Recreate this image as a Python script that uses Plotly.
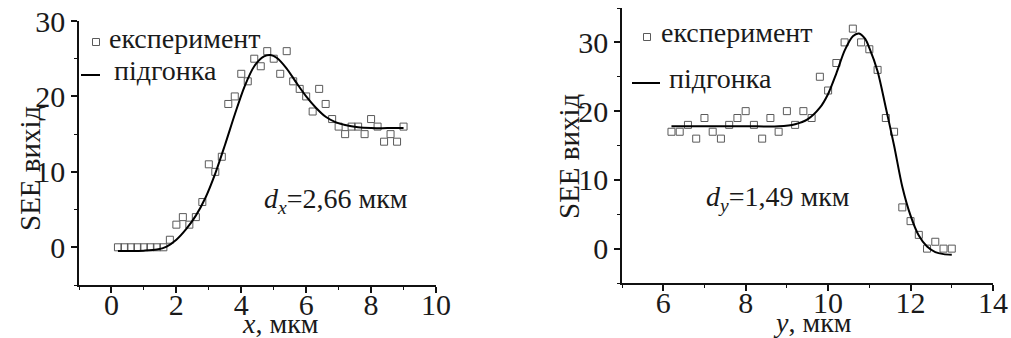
import plotly.graph_objects as go

# ---------------- data: left panel (x scan) ----------------
x_exp_l = [0.2, 0.4, 0.6, 0.8, 1.0, 1.2, 1.4, 1.6, 1.8, 2.0, 2.2, 2.4, 2.6, 2.8, 3.0,
           3.2, 3.4, 3.6, 3.8, 4.0, 4.2, 4.4, 4.6, 4.8, 5.0, 5.2, 5.4, 5.6, 5.8, 6.0,
           6.2, 6.4, 6.6, 6.8, 7.0, 7.2, 7.4, 7.6, 7.8, 8.0, 8.2, 8.4, 8.6, 8.8, 9.0]
y_exp_l = [0, 0, 0, 0, 0, 0, 0, 0, 1, 3, 4, 3, 4, 6, 11,
           10, 12, 19, 20, 23, 22, 25, 24, 26, 25, 23, 26, 22, 21, 20,
           18, 21, 19, 17, 16, 15, 16, 16, 15, 17, 16, 14, 15, 14, 16]
x_fit_l = [0.2, 0.6, 1.0, 1.4, 1.7, 2.0, 2.3, 2.6, 2.9, 3.2, 3.5, 3.8, 4.1, 4.4,
           4.7, 4.9, 5.1, 5.4, 5.7, 6.0, 6.3, 6.6, 6.9, 7.2, 7.6, 8.0, 8.5, 9.0]
y_fit_l = [-0.5, -0.5, -0.45, -0.3, 0.1, 1.0, 2.4, 4.2, 6.6, 9.8, 13.6, 17.6, 21.3, 24.0,
           25.3, 25.5, 25.1, 23.7, 21.8, 20.0, 18.5, 17.3, 16.6, 16.2, 15.9, 15.8, 15.8, 15.8]

# ---------------- data: right panel (y scan) ----------------
x_exp_r = [6.2, 6.4, 6.6, 6.8, 7.0, 7.2, 7.4, 7.6, 7.8, 8.0, 8.2, 8.4, 8.6, 8.8, 9.0,
           9.2, 9.4, 9.6, 9.8, 10.0, 10.2, 10.4, 10.6, 10.8, 11.0, 11.2, 11.4, 11.6,
           11.8, 12.0, 12.2, 12.4, 12.6, 12.8, 13.0]
y_exp_r = [17, 17, 18, 16, 19, 17, 16, 18, 19, 20, 18, 16, 19, 17, 20,
           18, 20, 19, 25, 23, 27, 30, 32, 30, 29, 26, 19, 17,
           6, 4, 2, 0, 1, 0, 0]
x_fit_r = [6.2, 7.0, 8.0, 8.8, 9.2, 9.5, 9.8, 10.0, 10.2, 10.4, 10.6, 10.75, 10.9,
           11.0, 11.2, 11.4, 11.6, 11.8, 12.0, 12.2, 12.4, 12.6, 12.8, 13.0]
y_fit_r = [17.8, 17.8, 17.8, 17.8, 18.1, 18.8, 20.5, 22.5, 25.5, 28.8, 30.9, 31.3, 30.5,
           29.2, 25.8, 20.5, 15.0, 9.0, 4.8, 1.9, 0.3, -0.5, -0.8, -0.9]

x_ticks_l = [0, 2, 4, 6, 8, 10]
y_ticks_l = [0, 10, 20, 30]
x_ticks_r = [6, 8, 10, 12, 14]
y_ticks_r = [0, 10, 20, 30]

FONT = "Liberation Serif, Times New Roman, DejaVu Serif, serif"
TXT = "#1a1a1a"
MARK = "#5a5a5a"
W, H = 1011, 338

fig = go.Figure()

for xs, ys, xf, yf, xa, ya in [
    (x_exp_l, y_exp_l, x_fit_l, y_fit_l, "x", "y"),
    (x_exp_r, y_exp_r, x_fit_r, y_fit_r, "x2", "y2"),
]:
    fig.add_trace(go.Scatter(
        x=xs, y=ys, mode="markers", name="експеримент", xaxis=xa, yaxis=ya,
        marker=dict(symbol="square-open", size=7, color=MARK, line=dict(width=1, color=MARK)),
        showlegend=False))
    fig.add_trace(go.Scatter(
        x=xf, y=yf, mode="lines", name="підгонка", xaxis=xa, yaxis=ya,
        line=dict(color="black", width=2, shape="spline", smoothing=0.8),
        showlegend=False))

tickfont = dict(family=FONT, size=30, color=TXT)
common_axis = dict(showgrid=False, zeroline=False, showline=True, linecolor="#111",
                   linewidth=1.5, ticks="outside", ticklen=6, tickwidth=1.5,
                   tickcolor="#111", tickfont=tickfont, automargin=False,
                   minor=dict(ticks="outside", ticklen=3, tickwidth=1.2, tickcolor="#111"))

fig.update_layout(
    width=W, height=H,
    margin=dict(l=0, r=0, t=0, b=0, autoexpand=False),
    paper_bgcolor="white", plot_bgcolor="white",
    xaxis=dict(domain=[79 / W, 436 / W], range=[-1, 10], anchor="y",
               tickvals=x_ticks_l, minor_dtick=1, minor_tick0=0,
               ticklabelstandoff=-14, **common_axis),
    yaxis=dict(domain=[1 - 285 / H, 1 - 21 / H], range=[-5, 30], anchor="x",
               tickvals=y_ticks_l, minor_dtick=5, minor_tick0=0, **common_axis),
    xaxis2=dict(domain=[622 / W, 993 / W], range=[5, 14], anchor="y2",
                tickvals=x_ticks_r, minor_dtick=1, minor_tick0=0,
                ticklabelstandoff=-14, **common_axis),
    yaxis2=dict(domain=[1 - 283 / H, 1 - 8 / H], range=[-5, 35], anchor="x2",
                tickvals=y_ticks_r, minor_dtick=5, minor_tick0=0, **common_axis),
)


def px_ann(text, x, y, xanchor="center", yanchor="middle", angle=0, size=28):
    fig.add_annotation(text=text, x=x / W, y=1 - y / H, xref="paper", yref="paper",
                       xanchor=xanchor, yanchor=yanchor, textangle=angle, showarrow=False,
                       font=dict(family=FONT, size=size, color=TXT))


# axis titles
px_ann("SEE вихід", 30, 168, angle=-90, size=29)
px_ann("SEE вихід", 569, 156, angle=-90, size=29)
px_ann("<i>x</i>, мкм", 280, 323, size=28)
px_ann("<i>y</i>, мкм", 812, 322, size=28)

# fit parameters
px_ann("<i>d</i><sub><i>x</i></sub>=2,66 мкм", 262, 200, xanchor="left", size=28)
px_ann("<i>d</i><sub><i>y</i></sub>=1,49 мкм", 704, 198, xanchor="left", size=28)


# legends (drawn as shapes + text)
def legend(xsq, ysq, xl0, xl1, yl, xt1, yt1, xt2, yt2):
    fig.add_shape(type="rect", xref="paper", yref="paper",
                  x0=(xsq - 3.5) / W, x1=(xsq + 3.5) / W,
                  y0=1 - (ysq + 3.5) / H, y1=1 - (ysq - 3.5) / H,
                  line=dict(color=MARK, width=1))
    fig.add_shape(type="line", xref="paper", yref="paper",
                  x0=xl0 / W, x1=xl1 / W, y0=1 - yl / H, y1=1 - yl / H,
                  line=dict(color="black", width=2))
    px_ann("експеримент", xt1, yt1, xanchor="left", size=28)
    px_ann("підгонка", xt2, yt2, xanchor="left", size=28)


legend(96, 42, 81, 100, 75, 107, 38, 112, 71)
legend(647, 37, 632, 660, 83, 659, 33, 667, 79)

fig.write_html(
    "out.html",
    config={"displayModeBar": False},
    post_script="document.body.style.margin='0';document.body.style.padding='0';"
                "document.documentElement.style.overflow='hidden';",
)
